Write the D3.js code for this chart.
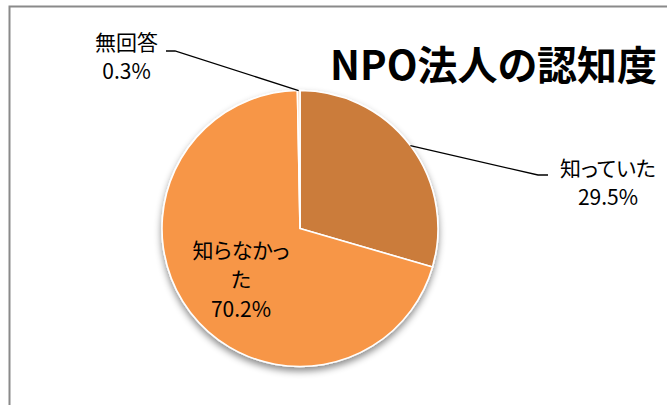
<!DOCTYPE html>
<html>
<head>
<meta charset="utf-8">
<script src="https://cdn.jsdelivr.net/npm/d3@7"></script>
<style>
  html, body { margin: 0; padding: 0; background: #fff; }
  svg { display: block; }
  text { font-family: "Noto Sans CJK JP", "Noto Sans", sans-serif; font-feature-settings: "palt"; }
</style>
</head>
<body>
<svg id="chart" width="667" height="405"></svg>
<script>
// ---- data ----
const categories = ["知っていた", "知らなかった", "無回答"];
const values = [29.5, 70.2, 0.3];
const valueLabels = ["29.5%", "70.2%", "0.3%"];
const titleText = "NPO法人の認知度";

// ---- layout / style (kept separate from data) ----
const W = 667, H = 405;
const cx = 300, cy = 228.5, R = 138;
const colors = ["#CB7B3A", "#F79646", "#F9D3B4"];
const wrapAt = [null, 5, null];            // characters per line for wrapped labels
const labelCenter = [[608, 168], [241, 250], [126.5, 42]]; // first-line centre of each label
const lineGap = 29.5;
const leaderElbow = [[538, 175, 548], null, [175, 51, 166]]; // [x,y of elbow, end x]

const svg = d3.select("#chart");

const defs = svg.append("defs");
const f = defs.append("filter").attr("id", "shadow")
  .attr("x", "-20%").attr("y", "-20%").attr("width", "140%").attr("height", "140%");
f.append("feDropShadow").attr("dx", 0).attr("dy", 4).attr("stdDeviation", 3.5)
  .attr("flood-color", "#000").attr("flood-opacity", 0.45);

// frame
svg.append("path")
  .attr("d", `M9.5,${H} L9.5,6.5 L${W},6.5`)
  .attr("fill", "none").attr("stroke", "#8a8a8a").attr("stroke-width", 2);

const pie = d3.pie().sort(null).value(d => d)(values);
const arc = d3.arc().innerRadius(0).outerRadius(R);

const g = svg.append("g").attr("transform", `translate(${cx},${cy})`);
g.append("g").attr("filter", "url(#shadow)")
  .selectAll("path").data(pie).join("path")
  .attr("d", arc)
  .attr("fill", (d, i) => colors[i])
  .attr("stroke", "#fff").attr("stroke-width", 1.6).attr("stroke-linejoin", "round");

// leader lines
pie.forEach((d, i) => {
  const e = leaderElbow[i];
  if (!e) return;
  const a = (d.startAngle + d.endAngle) / 2;
  const px = cx + Math.sin(a) * R, py = cy - Math.cos(a) * R;
  svg.append("path")
    .attr("d", `M${px},${py} L${e[0]},${e[1]} L${e[2]},${e[1]}`)
    .attr("fill", "none").attr("stroke", "#000").attr("stroke-width", 1.3);
});

// labels
categories.forEach((c, i) => {
  const lines = [];
  if (wrapAt[i]) {
    for (let k = 0; k < c.length; k += wrapAt[i]) lines.push(c.slice(k, k + wrapAt[i]));
  } else lines.push(c);
  lines.push(valueLabels[i]);
  const t = svg.append("text")
    .attr("text-anchor", "middle")
    .attr("font-size", 21)
    .attr("fill", "#000");
  lines.forEach((ln, k) => {
    t.append("tspan")
      .attr("x", labelCenter[i][0])
      .attr("y", labelCenter[i][1] + k * lineGap)
      .attr("dy", "0.36em")
      .text(ln);
  });
});

// title
svg.append("text")
  .attr("x", 330).attr("y", 80)
  .attr("font-size", 40).attr("font-weight", "bold")
  .attr("fill", "#000")
  .text(titleText);
</script>
</body>
</html>
